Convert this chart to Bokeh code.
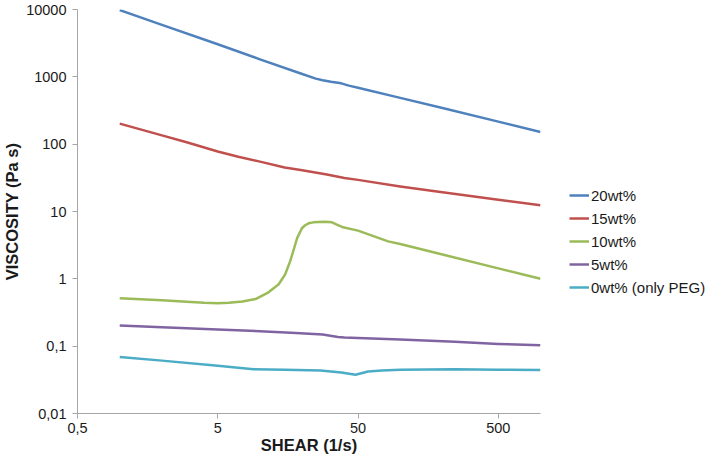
from bokeh.plotting import figure
from bokeh.models import Range1d, FixedTicker, Legend, LegendItem
from bokeh.embed import file_html
from bokeh.resources import INLINE

# ---- data ----
shear_20 = [1, 2, 5, 10, 20, 25, 28, 32, 38, 43, 50, 100, 200, 500, 1000]
visc_20 = [9800, 5900, 3050, 1820, 1100, 940, 890, 845, 800, 740, 690, 487, 344, 216, 152]

shear_15 = [1, 2, 3, 5, 7, 10, 15, 20, 30, 40, 50, 100, 200, 500, 1000]
visc_15 = [202, 135, 107, 78, 65, 55, 45, 41, 35.5, 31.5, 29.5, 23.5, 19.3, 15, 12.4]

shear_10 = [1, 2, 3, 4, 5, 6, 7.5, 9.3, 11.5, 13.6, 15.1, 16.4, 17.4, 18.4, 19.9,
            21, 22.2, 24, 26.1, 29, 32.6, 35, 38.4, 50, 82, 100, 200, 500, 1000]
visc_10 = [0.515, 0.48, 0.455, 0.44, 0.435, 0.44, 0.46, 0.5, 0.63, 0.83, 1.16, 1.82,
           2.71, 4.02, 5.64, 6.25, 6.67, 6.9, 7.0, 7.02, 6.9, 6.45, 5.9, 5.2, 3.6, 3.3,
           2.3, 1.43, 1.0]

shear_5 = [1, 2, 5, 10, 18, 28, 36, 40, 50, 100, 245, 500, 1000]
visc_5 = [0.203, 0.191, 0.177, 0.167, 0.157, 0.149, 0.137, 0.134, 0.132, 0.126, 0.116, 0.108, 0.1035]

shear_0 = [1, 2, 5, 9, 15, 27, 38, 48, 59, 74, 100, 245, 500, 1000]
visc_0 = [0.069, 0.061, 0.051, 0.0455, 0.0445, 0.0435, 0.0405, 0.0376, 0.042, 0.0435,
          0.0445, 0.0455, 0.0445, 0.0444]

series_names = ["20wt%", "15wt%", "10wt%", "5wt%", "0wt% (only PEG)"]
series_colors = ["#4F81BD", "#C0504D", "#9BBB59", "#8064A2", "#4BACC6"]

x_ticks = [0.5, 5, 50, 500]
x_tick_labels = ["0,5", "5", "50", "500"]
y_ticks = [0.01, 0.1, 1, 10, 100, 1000, 10000]
y_tick_labels = ["0,01", "0,1", "1", "10", "100", "1000", "10000"]

FONT = "Liberation Sans"

p = figure(frame_width=463, frame_height=404, x_axis_type="log", y_axis_type="log",
           x_range=Range1d(0.5, 1000), y_range=Range1d(0.01, 10000),
           output_backend="svg", toolbar_location=None,
           min_border_left=74, min_border_top=9, min_border_right=166,
           min_border_bottom=0)
p.outline_line_color = None
p.grid.visible = False
p.background_fill_color = "white"
p.border_fill_color = "white"

renderers = []
for xs, ys, c in [(shear_20, visc_20, series_colors[0]),
                  (shear_15, visc_15, series_colors[1]),
                  (shear_10, visc_10, series_colors[2]),
                  (shear_5, visc_5, series_colors[3]),
                  (shear_0, visc_0, series_colors[4])]:
    r = p.line(xs, ys, line_color=c, line_width=2.5, line_join="round")
    renderers.append(r)

for ax in (p.xaxis[0], p.yaxis[0]):
    ax.axis_line_color = "#A6A6A6"
    ax.major_tick_line_color = "#A6A6A6"
    ax.minor_tick_line_color = None
    ax.major_tick_out = 5
    ax.major_tick_in = 0
    ax.major_label_text_font = FONT
    ax.major_label_text_font_size = "14.5px"
    ax.major_label_text_color = "#1a1a1a"
    ax.axis_label_text_font = FONT
    ax.axis_label_text_font_size = "16.5px"
    ax.axis_label_text_font_style = "bold"
    ax.axis_label_text_color = "#1a1a1a"

p.xaxis[0].ticker = FixedTicker(ticks=x_ticks)
p.xaxis[0].major_label_overrides = dict(zip(x_ticks, x_tick_labels))
p.xaxis[0].axis_label = "SHEAR (1/s)"
p.xaxis[0].major_label_standoff = 4
p.xaxis[0].axis_label_standoff = 0

p.yaxis[0].ticker = FixedTicker(ticks=y_ticks)
p.yaxis[0].major_label_overrides = dict(zip(y_ticks, y_tick_labels))
p.yaxis[0].axis_label = "VISCOSITY (Pa s)"
p.yaxis[0].major_label_standoff = 6
p.yaxis[0].axis_label_standoff = 2

legend = Legend(items=[LegendItem(label=n, renderers=[r]) for n, r in zip(series_names, renderers)],
                location=(29, 116))
legend.margin = 0
legend.padding = 0
legend.border_line_color = None
legend.background_fill_alpha = 0
legend.glyph_width = 20
legend.glyph_height = 20
legend.label_height = 20
legend.spacing = 3
legend.label_standoff = 2
legend.label_text_font = FONT
legend.label_text_font_size = "15px"
legend.label_text_color = "#1a1a1a"
p.add_layout(legend, "right")

open("out.html", "w").write(file_html(p, INLINE))
